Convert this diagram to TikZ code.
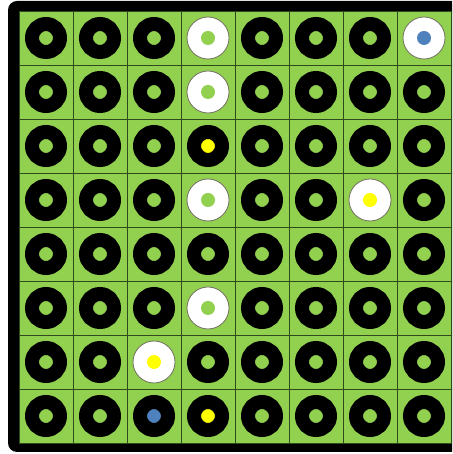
\documentclass[tikz,border=0pt]{standalone}
\definecolor{boardgreen}{HTML}{92D050}
\definecolor{dotblue}{HTML}{4F81BD}
\definecolor{dotyellow}{HTML}{FFFF00}
\definecolor{gridline}{HTML}{2F4A1C}
\definecolor{discedge}{HTML}{707060}
\tikzset{
  ring/.style={circle, draw=black, line width=14pt, minimum size=28pt, inner sep=0pt, fill=#1},
  disc/.style={circle, draw=discedge, line width=0.8pt, minimum size=42pt, inner sep=0pt, fill=white,
    path picture={\fill[#1] (path picture bounding box.center) circle (7pt);}},
  cellR/.style={ring=boardgreen},
  cellRB/.style={ring=dotblue},
  cellRY/.style={ring=dotyellow},
  cellWG/.style={disc=boardgreen},
  cellWB/.style={disc=dotblue},
  cellWY/.style={disc=dotyellow},
}
\begin{document}
\begin{tikzpicture}[x=1pt,y=1pt]
\useasboundingbox (0,0) rectangle (452,454);
\clip (0,0) rectangle (452,454);
\fill[black, rounded corners=9pt] (8,2) rectangle (480,453);
\fill[boardgreen] (19,11) rectangle (470,443);
\foreach \k in {0,...,8} {
  \draw[gridline, line width=0.8pt] (19+54*\k,11) -- (19+54*\k,443);
  \draw[gridline, line width=0.8pt] (19,11+54*\k) -- (470,11+54*\k);
}
\foreach \row [count=\ri from 0] in {
  {R,R,R,WG,R,R,R,WB},
  {R,R,R,WG,R,R,R,R},
  {R,R,R,RY,R,R,R,R},
  {R,R,R,WG,R,R,WY,R},
  {R,R,R,R,R,R,R,R},
  {R,R,R,WG,R,R,R,R},
  {R,R,WY,R,R,R,R,R},
  {R,R,RB,RY,R,R,R,R}} {
  \foreach \t [count=\ci from 0] in \row {
    \node[cell\t] (n\ri\ci) at (46+54*\ci, 416-54*\ri) {};
  }
}
\end{tikzpicture}
\end{document}
